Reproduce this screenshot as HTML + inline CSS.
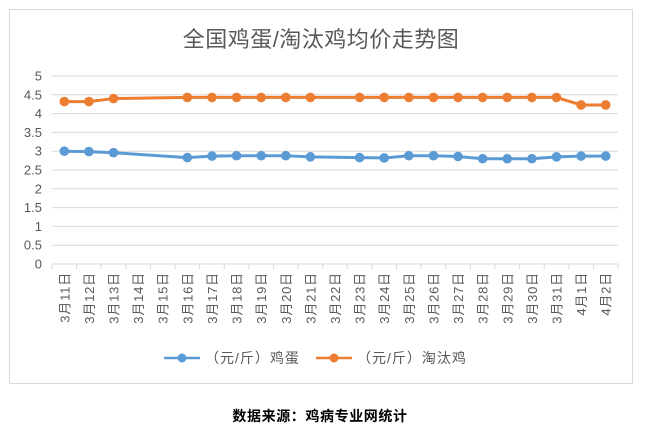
<!DOCTYPE html>
<html><head><meta charset="utf-8">
<style>
body{margin:0;background:#fff;width:650px;height:431px;overflow:hidden;font-family:"Liberation Sans","Noto Sans CJK SC",sans-serif;}
</style></head>
<body>
<svg width="650" height="431" xmlns="http://www.w3.org/2000/svg">
<rect x="9.5" y="9.5" width="623" height="374" fill="#fff" stroke="#d9d9d9"/>
<text x="321" y="47" text-anchor="middle" font-size="22" letter-spacing="0.5" fill="#595959" font-family="Liberation Sans, Noto Sans CJK SC, sans-serif">全国鸡蛋/淘汰鸡均价走势图</text>
<g id="grid"></g><g id="yt"></g><g id="xt"></g><g id="series"></g>
<g>
<g>
<line x1="164" y1="358" x2="200" y2="358" stroke="#5b9bd5" stroke-width="2.5"/><circle cx="182" cy="358" r="4.5" fill="#5b9bd5"/>
<text x="205" y="363" font-size="14" letter-spacing="1" fill="#595959">（元/斤）鸡蛋</text></g>
<g>
<line x1="316" y1="358" x2="352" y2="358" stroke="#ed7d31" stroke-width="2.5"/><circle cx="334" cy="358" r="4.5" fill="#ed7d31"/>
<text x="357" y="363" font-size="14" letter-spacing="1" fill="#595959">（元/斤）淘汰鸡</text></g>
</g>
<text x="320" y="421" text-anchor="middle" font-size="14" font-weight="bold" letter-spacing="0.6" fill="#000">数据来源：鸡病专业网统计</text>
</svg>
<script>
const categories=["3月11日","3月12日","3月13日","3月14日","3月15日","3月16日","3月17日","3月18日","3月19日","3月20日","3月21日","3月22日","3月23日","3月24日","3月25日","3月26日","3月27日","3月28日","3月29日","3月30日","3月31日","4月1日","4月2日"];
const eggValues=[3.0,2.99,2.96,null,null,2.83,2.87,2.88,2.88,2.88,2.85,null,2.83,2.82,2.88,2.88,2.86,2.80,2.80,2.80,2.85,2.87,2.87];
const henValues=[4.32,4.32,4.40,null,null,4.43,4.43,4.43,4.43,4.43,4.43,null,4.43,4.43,4.43,4.43,4.43,4.43,4.43,4.43,4.43,4.23,4.23];
const yTicks=["0","0.5","1","1.5","2","2.5","3","3.5","4","4.5","5"];
const NS="http://www.w3.org/2000/svg";
const x0=52,x1=618,y0=264,yTop=76,yMax=5;
const step=(x1-x0)/categories.length;
const xs=i=>x0+step*(i+0.5);
const ys=v=>y0-(v/yMax)*(y0-yTop);
function mk(t,a,p){const e=document.createElementNS(NS,t);for(const k in a)e.setAttribute(k,a[k]);p.appendChild(e);return e;}
const grid=document.getElementById('grid'),yt=document.getElementById('yt'),xt=document.getElementById('xt'),ser=document.getElementById('series');
yTicks.forEach(t=>{const v=parseFloat(t),y=ys(v);
const l=mk('line',{x1:x0,x2:x1,y1:y,y2:y,stroke:'#d9d9d9','stroke-width':1},grid);


const tx=mk('text',{x:42,y:y+4.5,'text-anchor':'end','font-size':13,fill:'#595959'},yt);tx.textContent=t;


});
categories.forEach((c,i)=>{const xb=x0+step*i;
const tk=mk('line',{x1:xb,x2:xb,y1:y0,y2:y0+5,stroke:'#d9d9d9'},xt);


const x=xs(i);
const tx=mk('text',{x:0,y:0,transform:`translate(${x+5},272) rotate(-90)`,'text-anchor':'end','font-size':13,'letter-spacing':'0.8',fill:'#595959'},xt);tx.textContent=c;


});
mk('line',{x1:x1,x2:x1,y1:y0,y2:y0+5,stroke:'#d9d9d9'},xt);
function drawSeries(vals,color,name){
const pts=[];vals.forEach((v,i)=>{if(v!=null)pts.push([xs(i),ys(v)]);});
const pl=mk('polyline',{points:pts.map(p=>p.join(',')).join(' '),fill:'none',stroke:color,'stroke-width':3,'stroke-linejoin':'round'},ser);


vals.forEach((v,i)=>{if(v==null)return;
const c=mk('circle',{cx:xs(i),cy:ys(v),r:4.8,fill:color},ser);


});}
drawSeries(eggValues,'#5b9bd5','egg');
drawSeries(henValues,'#ed7d31','culled-chicken');
</script>
</body></html>
